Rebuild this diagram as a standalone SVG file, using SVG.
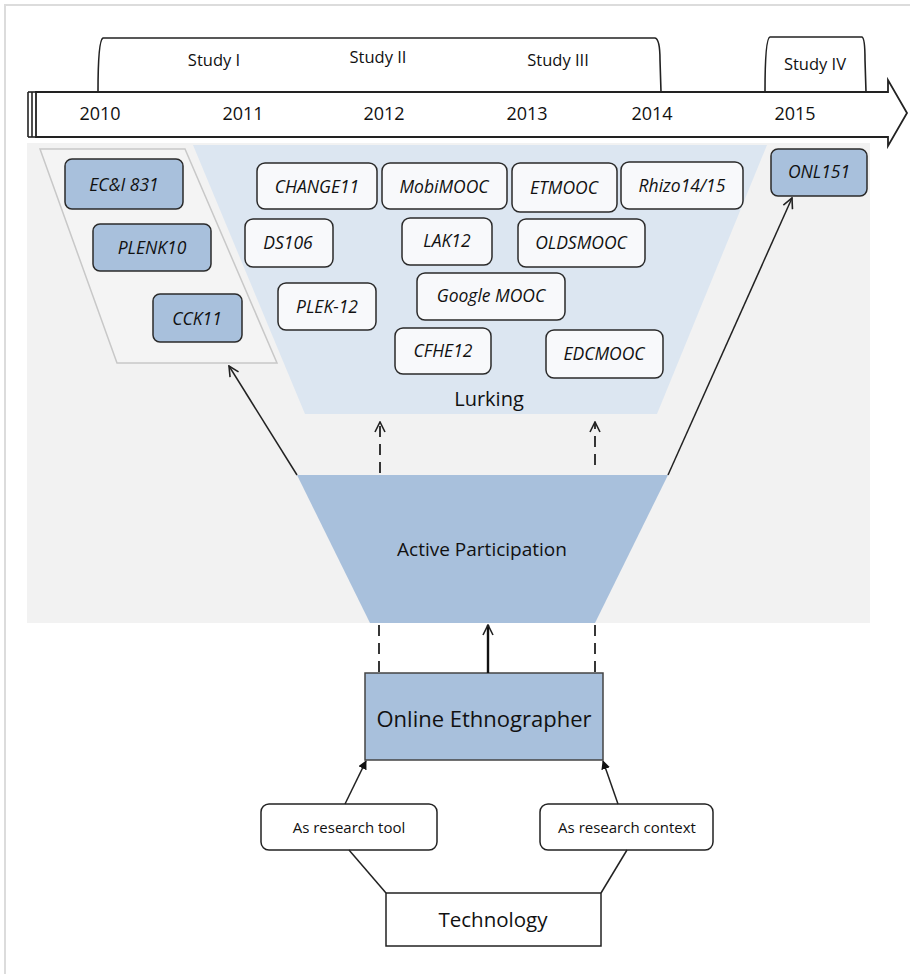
<svg xmlns="http://www.w3.org/2000/svg" width="910" height="974" viewBox="0 0 910 974">
  <defs>
    <marker id="open" viewBox="0 0 12 12" refX="11" refY="6" markerWidth="12" markerHeight="12" markerUnits="userSpaceOnUse" orient="auto">
      <path d="M1,1 L11,6 L1,11" fill="none" stroke="#222" stroke-width="1.6"/>
    </marker>
    <marker id="solid" viewBox="0 0 10 10" refX="9" refY="5" markerWidth="9" markerHeight="9" markerUnits="userSpaceOnUse" orient="auto">
      <path d="M0,0 L10,5 L0,10 Z" fill="#111"/>
    </marker>
  </defs>
  <style>
    .frame { fill: none; stroke: #dcdcdc; stroke-width: 2; }
    .bar { fill: #fff; stroke: #222; stroke-width: 1.8; }
    .brace { fill: none; stroke: #222; stroke-width: 1.6; }
    .year { font-family: "Open Sans", "Liberation Sans", sans-serif; font-size: 18px; fill: #111; text-anchor: middle; }
    .study { font-family: "Open Sans", "Liberation Sans", sans-serif; font-size: 16.5px; fill: #111; text-anchor: middle; }
    .course { fill: #f8f9fb; stroke: #2a2a2a; stroke-width: 1.5; }
    .course-b { fill: #a8c0dc; stroke: #2a2a2a; stroke-width: 1.5; }
    .cname { font-family: "Open Sans", "Liberation Sans", sans-serif; font-size: 17.5px; font-style: italic; fill: #111; text-anchor: middle; dominant-baseline: central; }
    .label { font-family: "Open Sans", "Liberation Sans", sans-serif; fill: #111; text-anchor: middle; dominant-baseline: central; }
    .link { fill: none; stroke: #222; stroke-width: 1.5; }
    .dash { fill: none; stroke: #222; stroke-width: 1.8; stroke-dasharray: 11 7; }
    .box { fill: #fff; stroke: #222; stroke-width: 1.5; }
  </style>

  <!-- outer frame -->
  <rect class="frame" x="5" y="5" width="910" height="980"/>

  <!-- timeline -->
  <g id="timeline">
    <path class="bar" d="M36,92 L888,92 L888,80 L907,113 L888,146 L888,137 L36,137 Z"/>
    <line x1="28" y1="92" x2="28" y2="137" stroke="#222" stroke-width="1.6"/>
    <line x1="32" y1="92" x2="32" y2="137" stroke="#222" stroke-width="1.6"/>
    <line x1="28" y1="92" x2="36" y2="92" stroke="#222" stroke-width="1.6"/>
    <line x1="28" y1="137" x2="36" y2="137" stroke="#222" stroke-width="1.6"/>
    <text class="year" x="100" y="120">2010</text>
    <text class="year" x="243" y="120">2011</text>
    <text class="year" x="384" y="120">2012</text>
    <text class="year" x="527" y="120">2013</text>
    <text class="year" x="652" y="120">2014</text>
    <text class="year" x="795" y="120">2015</text>
  </g>

  <!-- study spans -->
  <g id="studies">
    <path class="brace" d="M98,92 Q98,40 103,38 L655,38 Q660,39 660,60 L661,92"/>
    <path class="brace" d="M765,92 Q765,38 770,37 L862,37 Q865,38 865,60 L866,92"/>
    <text class="study" x="214" y="66">Study I</text>
    <text class="study" x="378" y="63">Study II</text>
    <text class="study" x="558" y="66">Study III</text>
    <text class="study" x="815" y="70">Study IV</text>
  </g>

  <!-- participation field -->
  <rect x="27" y="143" width="843" height="480" fill="#f2f2f2"/>
  <g id="lurking">
    <polygon points="193,145 767,145 657,414 305,414" fill="#dce6f1"/>
    <text class="label" x="489" y="398" font-size="20">Lurking</text>
  </g>
  <g id="early-courses">
    <polygon points="40,149 185,149 277,363 117,363" fill="#f4f4f4" stroke="#c8c8c8" stroke-width="1.5"/>
  </g>

  <g id="active">
    <polygon points="297,475 668,475 595,623 370,623" fill="#a8c0dc"/>
    <text class="label" x="482" y="549" font-size="19">Active Participation</text>
  </g>

  <!-- course nodes -->
  <g id="eci831"><rect class="course-b" x="65" y="159" width="118" height="50" rx="7"/><text class="cname" x="124" y="184">EC&amp;I 831</text></g>
  <g id="plenk10"><rect class="course-b" x="93" y="224" width="118" height="47" rx="7"/><text class="cname" x="152" y="247">PLENK10</text></g>
  <g id="cck11"><rect class="course-b" x="153" y="294" width="89" height="48" rx="7"/><text class="cname" x="197" y="318">CCK11</text></g>
  <g id="change11"><rect class="course" x="257" y="163" width="120" height="46" rx="8"/><text class="cname" x="317" y="186">CHANGE11</text></g>
  <g id="mobimooc"><rect class="course" x="382" y="163" width="125" height="46" rx="8"/><text class="cname" x="444" y="186">MobiMOOC</text></g>
  <g id="etmooc"><rect class="course" x="512" y="163" width="105" height="49" rx="8"/><text class="cname" x="564" y="187">ETMOOC</text></g>
  <g id="rhizo"><rect class="course" x="621" y="162" width="122" height="47" rx="8"/><text class="cname" x="682" y="185">Rhizo14/15</text></g>
  <g id="ds106"><rect class="course" x="245" y="219" width="88" height="48" rx="8"/><text class="cname" x="288" y="242">DS106</text></g>
  <g id="lak12"><rect class="course" x="402" y="218" width="90" height="47" rx="8"/><text class="cname" x="447" y="240">LAK12</text></g>
  <g id="oldsmooc"><rect class="course" x="518" y="219" width="127" height="48" rx="8"/><text class="cname" x="581" y="242">OLDSMOOC</text></g>
  <g id="plek12"><rect class="course" x="278" y="283" width="98" height="47" rx="8"/><text class="cname" x="327" y="306">PLEK-12</text></g>
  <g id="googlemooc"><rect class="course" x="417" y="273" width="148" height="47" rx="8"/><text class="cname" x="491" y="295">Google MOOC</text></g>
  <g id="cfhe12"><rect class="course" x="395" y="328" width="96" height="46" rx="8"/><text class="cname" x="443" y="350">CFHE12</text></g>
  <g id="edcmooc"><rect class="course" x="546" y="330" width="117" height="48" rx="8"/><text class="cname" x="604" y="353">EDCMOOC</text></g>
  <g id="onl151"><rect class="course-b" x="771" y="149" width="96" height="47" rx="7"/><text class="cname" x="819" y="171">ONL151</text></g>

  <!-- researcher side -->
  <g id="ethnographer">
    <rect x="365" y="673" width="238" height="87" fill="#a8c0dc" stroke="#444" stroke-width="1.5"/>
    <text class="label" x="484" y="718" font-size="22">Online Ethnographer</text>
  </g>
  <g id="tool">
    <rect class="box" x="261" y="804" width="176" height="46" rx="8"/>
    <text class="label" x="349" y="827" font-size="15">As research tool</text>
  </g>
  <g id="context">
    <rect class="box" x="540" y="804" width="173" height="46" rx="8"/>
    <text class="label" x="627" y="827" font-size="15">As research context</text>
  </g>
  <g id="technology">
    <rect class="box" x="386" y="893" width="215" height="53"/>
    <text class="label" x="493" y="919" font-size="20.5">Technology</text>
  </g>

  <!-- connectors -->
  <g id="connectors">
    <line class="link" x1="297" y1="475" x2="229" y2="366" marker-end="url(#open)"/>
    <line class="link" x1="668" y1="475" x2="792" y2="198" marker-end="url(#open)"/>
    <line class="dash" x1="380" y1="473" x2="380" y2="422" marker-end="url(#open)"/>
    <line class="dash" x1="595" y1="465" x2="595" y2="422" marker-end="url(#open)"/>
    <line class="dash" x1="379" y1="625" x2="379" y2="673"/>
    <line class="dash" x1="595" y1="625" x2="595" y2="673"/>
    <line x1="488" y1="673" x2="488" y2="625" stroke="#111" stroke-width="2.4" marker-end="url(#open)"/>
    <line class="link" x1="345" y1="804" x2="366" y2="761" marker-end="url(#solid)"/>
    <line class="link" x1="618" y1="804" x2="603" y2="761" marker-end="url(#solid)"/>
    <line class="link" x1="349" y1="850" x2="386" y2="893"/>
    <line class="link" x1="627" y1="850" x2="601" y2="893"/>
  </g>
</svg>
